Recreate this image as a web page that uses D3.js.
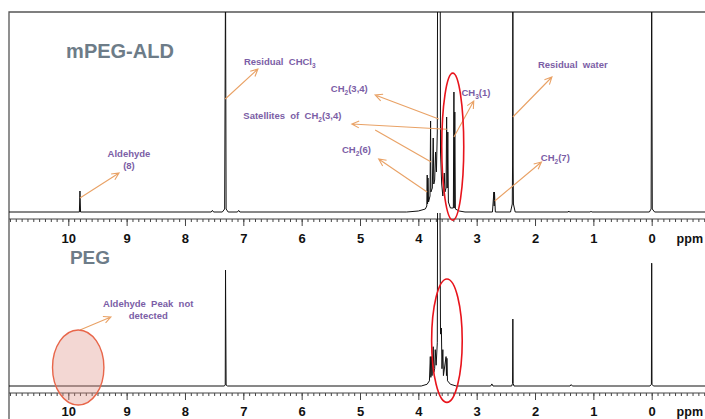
<!DOCTYPE html>
<html>
<head>
<meta charset="utf-8">
<script src="https://cdn.jsdelivr.net/npm/d3@7"></script>
<style>
    html, body { margin: 0; padding: 0; background: #fff; }
    svg { display: block; font-family: 'Liberation Sans', Arial, sans-serif; }
</style>
</head>
<body>
<div id="contents"></div>
<script>
// spectra as [ppm, intensity] points, intensity in % of panel height (clipped above 100)
var topSpectrum = [
    [11.2, 0], [9.81, 0], [9.80, 10.5], [9.79, 0],
    [7.55, 0], [7.53, 0.8], [7.51, 0],
    [7.36, 0], [7.32, 1.5], [7.305, 120], [7.295, 1.5], [7.26, 0],
    [7.10, 0], [7.08, 0.8], [7.06, 0],
    [4.20, 0], [4.00, 0.5], [3.88, 1.5], [3.855, 3], [3.848, 18.5], [3.842, 4], [3.835, 17], [3.825, 5],
    [3.80, 8], [3.79, 45.5], [3.785, 10], [3.76, 12], [3.745, 37], [3.735, 14], [3.72, 16], [3.705, 30],
    [3.69, 20], [3.675, 40], [3.67, 120], [3.625, 120], [3.62, 30], [3.60, 14], [3.58, 8], [3.555, 19.5],
    [3.545, 10], [3.525, 12], [3.515, 47.5], [3.505, 12], [3.495, 40], [3.485, 5], [3.45, 2], [3.40, 2],
    [3.39, 60], [3.385, 2], [3.375, 50], [3.365, 1.5], [3.30, 0.5], [3.20, 0],
    [2.73, 0], [2.705, 10], [2.70, 3], [2.695, 10], [2.68, 0],
    [2.42, 0], [2.39, 4], [2.385, 23], [2.38, 120], [2.375, 23], [2.37, 4], [2.34, 0],
    [1.43, 0], [1.42, 0.5], [1.41, 0],
    [1.05, 0], [1.04, 0.4], [1.03, 0],
    [0.04, 0], [0.01, 1.5], [0.0, 120], [-0.01, 1.5], [-0.05, 0], [-1.0, 0]
];
var bottomSpectrum = [
    [11.2, 0],
    [7.33, 0], [7.31, 0.5], [7.305, 67], [7.295, 0.5], [7.27, 0],
    [3.95, 0], [3.85, 1], [3.81, 3], [3.795, 17], [3.785, 5], [3.775, 17], [3.765, 6], [3.745, 22.7],
    [3.735, 8], [3.72, 10], [3.71, 21], [3.695, 12], [3.675, 25], [3.67, 115], [3.63, 115], [3.62, 30],
    [3.605, 33.5], [3.595, 10], [3.58, 21], [3.57, 6], [3.525, 17], [3.518, 6], [3.51, 16], [3.50, 3],
    [3.45, 1], [3.35, 0],
    [2.76, 0], [2.74, 1.2], [2.72, 0],
    [2.40, 0], [2.385, 1.5], [2.38, 38.7], [2.375, 1.5], [2.36, 0],
    [1.40, 0], [1.38, 0.8], [1.36, 0],
    [0.03, 0], [0.005, 1], [0.0, 71], [-0.005, 1], [-0.03, 0], [-1.0, 0]
];
var majorTicks = [10, 9, 8, 7, 6, 5, 4, 3, 2, 1, 0];
var tickLabels = ['10', '9', '8', '7', '6', '5', '4', '3', '2', '1', '0'];
var minorTicks = d3.range(110, -11, -1).map(function(d){ return d / 10; });
var panelTitles = ['mPEG-ALD', 'PEG'];

// labels: [text, subscript, rest, ppm, intensity, anchor]
var topLabels = [
    ['Residual  CHCl', '3', '', 6.99, 73.3, 'start'],
    ['Aldehyde', '', '', 8.96, 27.3, 'middle'],
    ['(8)', '', '', 8.96, 21.3, 'middle'],
    ['CH', '2', '(3,4)', 5.50, 59.8, 'start'],
    ['Satellites  of  CH', '2', '(3,4)', 7.00, 46.3, 'start'],
    ['CH', '2', '(6)', 5.31, 29.3, 'start'],
    ['CH', '3', '(1)', 3.26, 57.8, 'start'],
    ['Residual  water', '', '', 1.95, 72, 'start'],
    ['CH', '2', '(7)', 1.90, 25.5, 'start']
];
var bottomLabels = [
    ['Aldehyde  Peak  not', '', '', 8.63, 45.7, 'middle'],
    ['detected', '', '', 8.63, 38.7, 'middle']
];
// arrows: [fromPpm, fromInt, toPpm, toInt, head]
var topArrows = [
    [7.31, 56.5, 6.75, 71.5, 1],
    [9.80, 7, 9.13, 19.5, 1],
    [3.65, 46.5, 4.74, 58.5, 1],
    [3.51, 41.4, 5.14, 44, 1],
    [3.78, 25, 4.74, 41, 0],
    [3.85, 10, 4.68, 26.5, 1],
    [3.39, 37.5, 3.05, 55.5, 1],
    [2.38, 47.5, 1.71, 67.5, 1],
    [2.69, 5.5, 1.89, 25, 1]
];
var bottomArrows = [
    [9.80, 32.4, 9.27, 39.9, 1]
];
// ellipses: [ppm, intensity, rx, ry]
var topCircles = [[3.41, 32.7, 11, 73.5]];
var bottomCircles = [[3.51, 26.2, 15.3, 61.7]];
var bottomMarker = [[9.83, 10.7, 25.7, 37.5]];

window.onload = function(){
    'use strict';
    var width   = 705;
    var height  = 419;
    var ORANGE  = '#e9a266';
    var PURPLE  = '#7b5ea6';
    var svg = d3.select('#contents').append('svg')
        .attr('width', width)
        .attr('height', height);

    var x = d3.scaleLinear().domain([10, 0]).range([68.3, 651.7]);

    var panels = [
        {base: 212, top: 12, axis: 219, label: 243, data: topSpectrum, labels: topLabels,
         arrows: topArrows, circles: topCircles, title: [120, 58, 20]},
        {base: 386, top: 213, axis: 393, label: 416, data: bottomSpectrum, labels: bottomLabels,
         arrows: bottomArrows, circles: bottomCircles, title: [90, 264, 19]}
    ];
    panels[0].y = d3.scaleLinear().domain([0, 100]).range([212, 12]);
    panels[1].y = d3.scaleLinear().domain([0, 100]).range([386, 213]);

    var defs = svg.append('defs');
    panels.forEach(function(p, i){
        defs.append('clipPath').attr('id', 'clip' + i)
            .append('rect')
            .attr('x', 9).attr('y', p.top)
            .attr('width', width).attr('height', p.base - p.top + 5);
    });

    // frame
    svg.append('path')
        .attr('d', 'M' + width + ',12H9V' + height)
        .attr('fill', 'none')
        .attr('stroke', '#555')
        .attr('stroke-width', 1.3);

    panels.forEach(function(p, i){
        var g = svg.append('g');

        // spectrum
        var line = d3.line()
            .x(function(d){ return x(d[0]); })
            .y(function(d){ return p.y(d[1]); });
        g.append('path')
            .datum(p.data)
            .attr('clip-path', 'url(#clip' + i + ')')
            .attr('fill', 'none')
            .attr('stroke', '#111')
            .attr('stroke-width', 1)
            .attr('d', line);

        // axis
        g.append('line')
            .attr('x1', 9).attr('x2', width)
            .attr('y1', p.axis).attr('y2', p.axis)
            .attr('stroke', '#444');
        var minor = g.append('g')
            .attr('transform', 'translate(0,' + p.axis + ')')
            .call(d3.axisBottom(x).tickValues(minorTicks).tickSize(3).tickFormat(''));
        var major = g.append('g')
            .attr('transform', 'translate(0,' + p.axis + ')')
            .call(d3.axisBottom(x).tickValues(majorTicks).tickSize(7)
                .tickFormat(function(d, k){ return tickLabels[k]; }));
        minor.select('.domain').remove();
        major.select('.domain').remove();
        minor.selectAll('line').attr('stroke', '#444');
        major.selectAll('line').attr('stroke', '#444');
        major.selectAll('text')
            .attr('y', null)
            .attr('dy', null)
            .attr('transform', 'translate(0,' + (p.label - p.axis) + ')')
            .attr('font-size', 13)
            .attr('font-weight', 'bold')
            .attr('font-family', "'Liberation Sans', Arial, sans-serif")
            .attr('fill', '#111');
        g.append('text')
            .attr('x', 703).attr('y', p.label)
            .attr('text-anchor', 'end')
            .attr('font-size', 12.5)
            .attr('font-weight', 'bold')
            .attr('fill', '#111')
            .text('ppm');

        // title
        g.append('text')
            .attr('x', p.title[0]).attr('y', p.title[1])
            .attr('text-anchor', 'middle')
            .attr('font-size', p.title[2])
            .attr('font-weight', 'bold')
            .attr('fill', '#6d7c88')
            .text(panelTitles[i]);

        // arrows
        p.arrows.forEach(function(a){
            var x1 = x(a[0]), y1 = p.y(a[1]), x2 = x(a[2]), y2 = p.y(a[3]);
            var ang = Math.atan2(y2 - y1, x2 - x1);
            var d = 'M' + x1 + ',' + y1 + 'L' + x2 + ',' + y2;
            if(a[4]) {
                var L = 8, s = 0.45;
                d += 'M' + (x2 - L * Math.cos(ang - s)) + ',' + (y2 - L * Math.sin(ang - s)) +
                     'L' + x2 + ',' + y2 +
                     'L' + (x2 - L * Math.cos(ang + s)) + ',' + (y2 - L * Math.sin(ang + s));
            }
            g.append('path')
                .attr('d', d)
                .attr('fill', 'none')
                .attr('stroke', ORANGE)
                .attr('stroke-width', 1.1);
        });

        // labels
        p.labels.forEach(function(l){
            var t = g.append('text')
                .attr('x', x(l[3])).attr('y', p.y(l[4]))
                .attr('text-anchor', l[5])
                .attr('font-size', 9.5)
                .attr('font-weight', 'bold')
                .attr('fill', PURPLE)
                .style('white-space', 'pre');
            t.append('tspan').text(l[0]);
            if(l[1]) {
                t.append('tspan').attr('font-size', 6.5).attr('dy', 2.5).text(l[1]);
                t.append('tspan').attr('dy', -2.5).text(l[2]);
            }
        });

        // highlight ellipses
        p.circles.forEach(function(c){
            g.append('ellipse')
                .attr('cx', x(c[0])).attr('cy', p.y(c[1]))
                .attr('rx', c[2]).attr('ry', c[3])
                .attr('fill', 'none')
                .attr('stroke', '#e8141c')
                .attr('stroke-width', 1.6);
        });
    });

    svg.selectAll('.marker')
        .data(bottomMarker)
        .enter()
        .append('ellipse')
        .attr('cx', function(d){ return x(d[0]); })
        .attr('cy', function(d){ return panels[1].y(d[1]); })
        .attr('rx', function(d){ return d[2]; })
        .attr('ry', function(d){ return d[3]; })
        .attr('fill', 'rgba(222, 140, 130, 0.35)')
        .attr('stroke', '#e8664a')
        .attr('stroke-width', 1.4);
};
</script>
</body>
</html>
